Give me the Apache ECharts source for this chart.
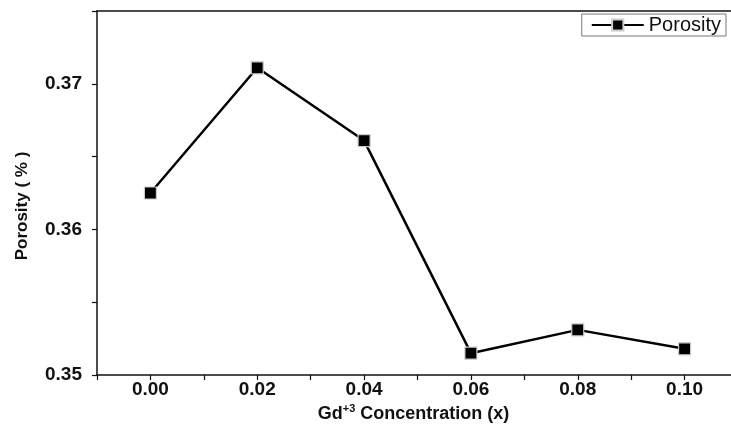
<!DOCTYPE html>
<html>
<head>
<meta charset="utf-8">
<script src="https://cdn.jsdelivr.net/npm/echarts@6/dist/echarts.min.js"></script>
<style>
  html, body { margin: 0; padding: 0; background: #fff; overflow: hidden; width: 731px; height: 440px; }
  /* the plot frame runs a little past the right edge of the page */
  #chart { width: 741px; height: 440px; }
</style>
</head>
<body>
<div id="chart"></div>
<script>
// Gd+3 substitution level vs. measured porosity
const concentration = [0.00, 0.02, 0.04, 0.06, 0.08, 0.10];
const porosity = [0.3625, 0.3711, 0.3661, 0.3515, 0.3531, 0.3518];
const seriesName = 'Porosity';
const xTitle = '{n|Gd}{s|+3}{n| Concentration (x)}';
const yTitle = 'Porosity ( % )';

const FONT = '"Liberation Sans", Arial, sans-serif';
const INK = '#111';

const chart = echarts.init(document.getElementById('chart'), null, { renderer: 'canvas' });

chart.setOption({
  animation: false,
  backgroundColor: '#fff',
  grid: { left: 97, right: 0, top: 11, bottom: 65 },
  legend: {
    data: [seriesName],
    right: 15, top: 14,
    itemWidth: 52, itemHeight: 14, itemGap: 3,
    padding: [1, 5, 1, 9],
    borderColor: '#777', borderWidth: 1, borderRadius: 0,
    backgroundColor: '#fff',
    textStyle: { fontFamily: FONT, fontSize: 20, color: INK, padding: [1, 0, 0, 0] }
  },
  xAxis: [{
    type: 'value',
    min: -0.01, max: 0.11, interval: 0.01,
    name: xTitle,
    nameLocation: 'middle',
    nameGap: 27,
    nameTextStyle: {
      padding: [0, 8, 0, 0],
      rich: {
        n: { fontFamily: FONT, fontWeight: 'bold', fontSize: 18, color: INK },
        s: { fontFamily: FONT, fontWeight: 'bold', fontSize: 11, color: INK, verticalAlign: 'top', padding: [0, 0, 9, 0] }
      }
    },
    axisLine: { show: true, onZero: false, lineStyle: { color: INK, width: 1.5 } },
    axisTick: { show: true, inside: false, length: 5, lineStyle: { color: INK, width: 1.2 } },
    splitLine: { show: false },
    axisLabel: {
      margin: 5,
      fontFamily: FONT, fontWeight: 'bold', fontSize: 19, color: INK,
      formatter: function (v) {
        const k = Math.round(v * 100);
        if (k < 0 || k % 2 !== 0 || k > 10) return '';
        return v.toFixed(2);
      }
    }
  }, {
    // plain top frame line
    type: 'value', position: 'top',
    min: -0.01, max: 0.11,
    axisLine: { show: true, onZero: false, lineStyle: { color: INK, width: 1.5 } },
    axisTick: { show: false }, axisLabel: { show: false }, splitLine: { show: false }
  }],
  yAxis: {
    type: 'value',
    min: 0.35, max: 0.375, interval: 0.005,
    name: yTitle,
    nameLocation: 'middle',
    nameGap: 66,
    nameRotate: 90,
    nameTextStyle: { fontFamily: FONT, fontWeight: 'bold', fontSize: 17, color: INK, padding: [0, 26, 0, 0] },
    axisLine: { show: true, onZero: false, lineStyle: { color: INK, width: 1.5 } },
    axisTick: { show: true, inside: false, length: 5, lineStyle: { color: INK, width: 1.2 } },
    splitLine: { show: false },
    axisLabel: {
      margin: 15,
      fontFamily: FONT, fontWeight: 'bold', fontSize: 19, color: INK,
      formatter: function (v) {
        const k = Math.round(v * 1000);
        if (k % 10 !== 0 || k >= 375) return '';
        return v.toFixed(2);
      }
    }
  },
  series: [{
    name: seriesName,
    type: 'line',
    xAxisIndex: 0,
    data: concentration.map((c, i) => [c, porosity[i]]),
    symbol: 'rect',
    symbolSize: 12,
    lineStyle: { color: '#000', width: 2.5 },
    itemStyle: { color: '#000', borderColor: '#ccc', borderWidth: 1.2 },
    z: 3
  }]
});
</script>
</body>
</html>
